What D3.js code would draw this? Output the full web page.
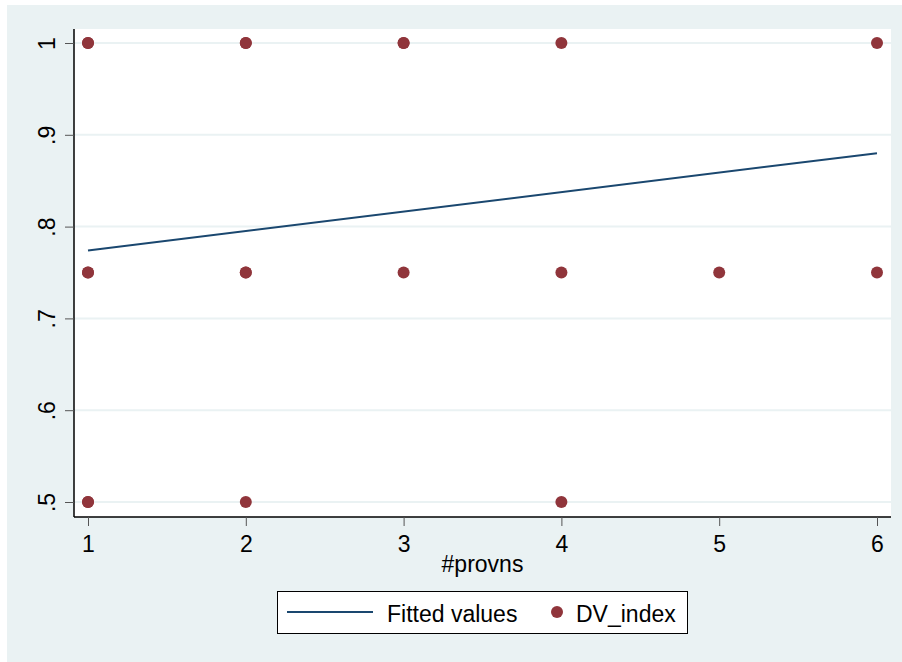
<!DOCTYPE html>
<html>
<head>
<meta charset="utf-8">
<script src="https://cdn.jsdelivr.net/npm/d3@7"></script>
<style>
  body { margin: 0; background: #fff; }
  text { font-family: "Liberation Sans", Arial, sans-serif; fill: #000; }
</style>
</head>
<body>
<div id="chart"></div>
<script>
// observations (#provns, DV_index); repeated points overlap in the original
const provns = [1, 1, 2, 2, 3, 3, 4, 6, 1, 1, 2, 2, 3, 4, 5, 6, 1, 1, 2, 4];
const dvIndex = [1, 1, 1, 1, 1, 1, 1, 1, .75, .75, .75, .75, .75, .75, .75, .75, .5, .5, .5, .5];

// fitted line end points
const fitX = [1, 6];
const fitY = [0.774, 0.880];

const xTicks = [1, 2, 3, 4, 5, 6];
const yTicks = [0.5, 0.6, 0.7, 0.8, 0.9, 1];
const yTickLabels = [".5", ".6", ".7", ".8", ".9", "1"];

const W = 902, H = 662;
const plot = { left: 74, top: 29, right: 891, bottom: 517 };
const bg = "#eaf2f3";
const fs = 23;

const svg = d3.select("#chart").append("svg")
  .attr("width", W).attr("height", H);

// graph region
svg.append("rect").attr("x", 7).attr("y", 5)
  .attr("width", W - 7).attr("height", H - 5).attr("fill", bg);
// plot region
svg.append("rect").attr("x", plot.left).attr("y", plot.top)
  .attr("width", plot.right - plot.left).attr("height", plot.bottom - plot.top)
  .attr("fill", "#fff");

const x = d3.scaleLinear().domain([1, 6]).range([88, 877]);
const y = d3.scaleLinear().domain([0.5, 1]).range([502, 43]);

// gridlines
svg.append("g").selectAll("line").data(yTicks).join("line")
  .attr("x1", plot.left).attr("x2", plot.right)
  .attr("y1", d => y(d)).attr("y2", d => y(d))
  .attr("stroke", bg).attr("stroke-width", 2);

// axes
const yAxis = svg.append("g").attr("transform", `translate(${plot.left},0)`)
  .call(d3.axisLeft(y).tickValues(yTicks).tickSize(9).tickFormat((d, i) => yTickLabels[i]));
yAxis.select(".domain").attr("d", `M0,${plot.top}V${plot.bottom}`).attr("stroke", "#000").attr("stroke-width", 1.5);
yAxis.selectAll(".tick line").attr("stroke", "#555");
yAxis.selectAll(".tick text")
  .attr("font-size", fs)
  .attr("x", null).attr("dy", null)
  .attr("text-anchor", "middle")
  .attr("transform", "translate(-19,0) rotate(-90)");

const xAxis = svg.append("g").attr("transform", `translate(0,${plot.bottom})`)
  .call(d3.axisBottom(x).tickValues(xTicks).tickSize(9).tickFormat(d3.format("d")));
xAxis.select(".domain").attr("d", `M${plot.left},0H${plot.right}`).attr("stroke", "#000").attr("stroke-width", 1.5);
xAxis.selectAll(".tick line").attr("stroke", "#555");
xAxis.selectAll(".tick text").attr("font-size", fs).attr("y", 35).attr("dy", null);

svg.append("text")
  .attr("x", (plot.left + plot.right) / 2).attr("y", 572)
  .attr("text-anchor", "middle").attr("font-size", fs)
  .text("#provns");

// fitted line
svg.append("path")
  .datum(fitX.map((d, i) => [d, fitY[i]]))
  .attr("d", d3.line().x(d => x(d[0])).y(d => y(d[1])))
  .attr("fill", "none").attr("stroke", "#1a476f").attr("stroke-width", 2);

// points
svg.append("g").selectAll("circle").data(provns).join("circle")
  .attr("cx", d => x(d)).attr("cy", (d, i) => y(dvIndex[i]))
  .attr("r", 6).attr("fill", "#90353b");

// legend
const lg = svg.append("g");
lg.append("rect").attr("x", 277.5).attr("y", 591.5).attr("width", 410).attr("height", 42)
  .attr("fill", "#fff").attr("stroke", "#000").attr("stroke-width", 1);
lg.append("line").attr("x1", 287).attr("x2", 373).attr("y1", 612).attr("y2", 612)
  .attr("stroke", "#1a476f").attr("stroke-width", 2);
lg.append("text").attr("x", 387).attr("y", 622).attr("font-size", fs).text("Fitted values");
lg.append("circle").attr("cx", 557).attr("cy", 612).attr("r", 6).attr("fill", "#90353b");
lg.append("text").attr("x", 576).attr("y", 622).attr("font-size", fs).text("DV_index");
</script>
</body>
</html>
